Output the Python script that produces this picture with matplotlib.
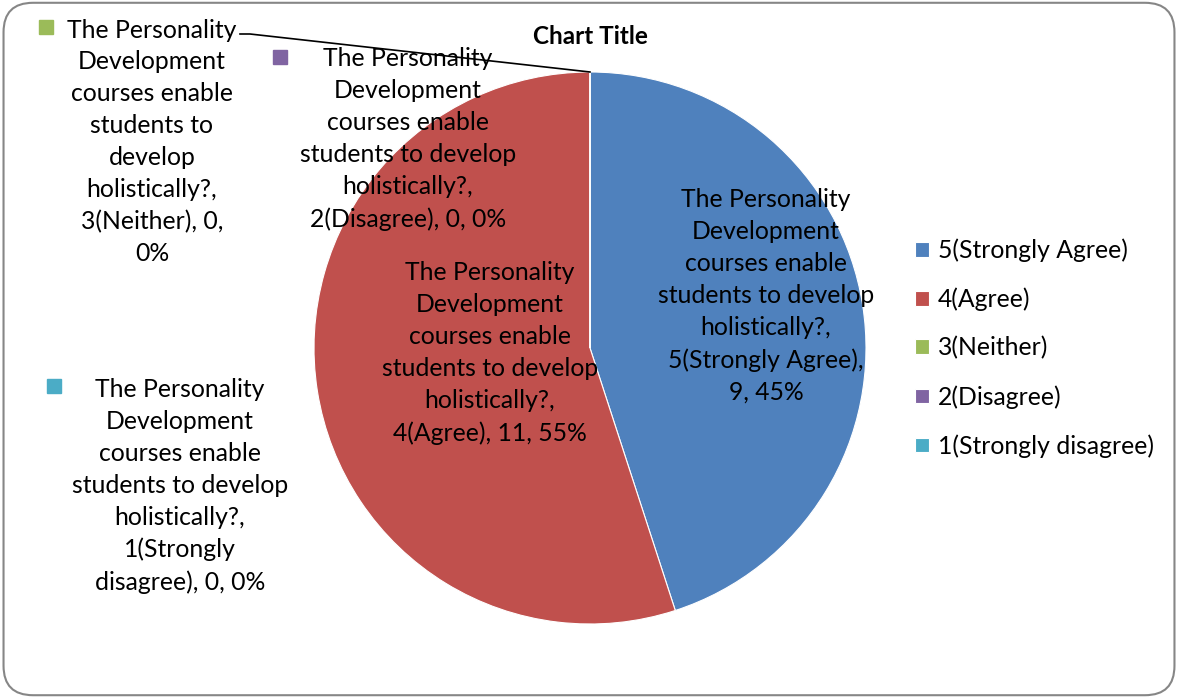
import matplotlib.pyplot as plt
from matplotlib.patches import FancyBboxPatch

# survey answers
categories = ["5(Strongly Agree)", "4(Agree)", "3(Neither)", "2(Disagree)", "1(Strongly disagree)"]
counts = [9, 11, 0, 0, 0]
colors = ["#4F81BD", "#C0504D", "#9BBB59", "#8064A2", "#4BACC6"]
question = "The Personality Development courses enable students to develop holistically?"

W, H = 1178, 698
FONT = "Lato"
FS = 17.8


def Y(y):
    # image rows -> axis units (y up)
    return H - y


total = sum(counts)
pcts = [round(c * 100 / total) for c in counts]

wrap_a = "The Personality\nDevelopment\ncourses enable\nstudents to develop\nholistically?,"
wrap_b = "The Personality\nDevelopment\ncourses enable\nstudents to\ndevelop\nholistically?,"

labels = [
    f"{wrap_a}\n{categories[0]},\n{counts[0]}, {pcts[0]}%",
    f"{wrap_a}\n{categories[1]}, {counts[1]}, {pcts[1]}%",
    f"{wrap_b}\n{categories[2]}, {counts[2]},\n{pcts[2]}%",
    f"{wrap_a}\n{categories[3]}, {counts[3]}, {pcts[3]}%",
    f"{wrap_a}\n{categories[4].replace(' ', chr(10))}, {counts[4]}, {pcts[4]}%",
]
# label centres (x, y in image px) and key marker spot
label_pos = [(766, 296), (490, 353), (152, 142), (408, 139), (180, 486)]
key_pos = [None, None, (46, 27), (280, 57), (54, 386)]

fig = plt.figure(figsize=(W / 100, H / 100), dpi=100)
ax = fig.add_axes([0, 0, 1, 1])

wedges, _ = ax.pie(counts, colors=colors, startangle=90, counterclock=False,
                   center=(590, Y(348)), radius=276,
                   wedgeprops=dict(edgecolor="white", linewidth=0.8))

ax.set_xlim(0, W)
ax.set_ylim(0, H)
ax.axis("off")

for i, lab in enumerate(labels):
    x, y = label_pos[i]
    ax.text(x, Y(y), lab, ha="center", va="center", multialignment="center",
            fontsize=FS, family=FONT, linespacing=1.47, color="black")
    if key_pos[i] is not None:
        kx, ky = key_pos[i]
        ax.plot(kx, Y(ky), marker="s", ms=9.5, color=colors[i], mec=colors[i])

# leader line for the "Neither" label
ax.plot([240, 250, 590], [Y(34), Y(34), Y(72)], color="black", lw=1.2)

ax.text(590, Y(37), "Chart Title", ha="center", va="center",
        fontsize=17.5, fontweight="bold", family=FONT)

leg = ax.legend(wedges, categories, loc="center left",
                bbox_to_anchor=(893, Y(348)), bbox_transform=ax.transData,
                frameon=False, prop=dict(family=FONT, size=FS),
                handlelength=0.55, handleheight=0.55, handletextpad=0.35,
                labelspacing=1.03)

# rounded chart border
border = FancyBboxPatch((0.003, 0.004), 0.994, 0.992,
                        boxstyle="round,pad=0,rounding_size=0.025",
                        transform=fig.transFigure, fill=False,
                        edgecolor="#868686", linewidth=1.5, mutation_aspect=W / H)
fig.patches.append(border)

fig.savefig("out.png", dpi=100)
